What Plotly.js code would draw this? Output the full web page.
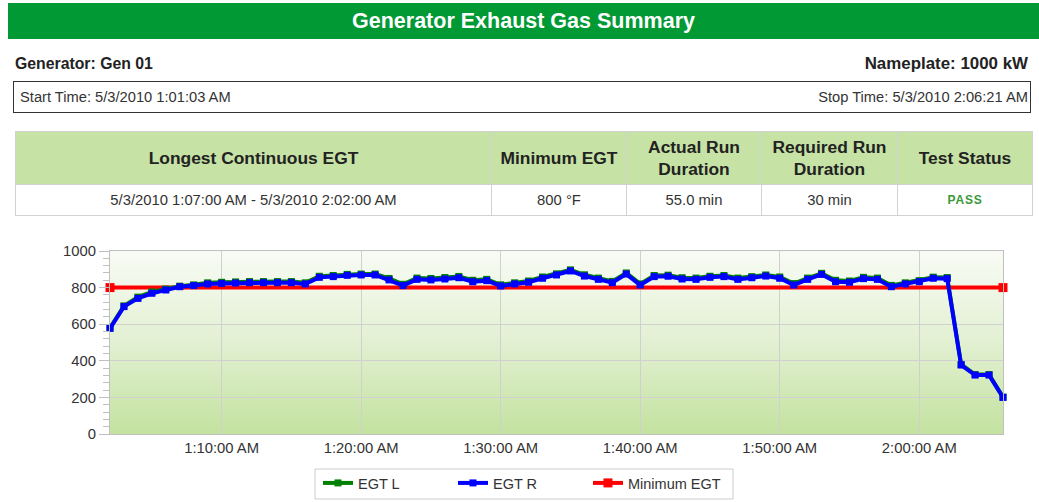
<!DOCTYPE html>
<html><head><meta charset="utf-8">
<script src="https://cdn.plot.ly/plotly-3.0.1.min.js"></script>
<style>
body{margin:0;width:1039px;height:502px;overflow:hidden;background:#fff;font-family:"Liberation Sans",Arial,sans-serif;position:relative;color:#222}
#titlebar{position:absolute;left:8px;top:3px;width:1031px;height:36px;background:#009933;color:#fff;font-weight:bold;font-size:21.5px;text-align:center;line-height:37px}
.lbl{position:absolute;top:54px;font-weight:bold;font-size:15.8px;line-height:20px;color:#222}
#timebox{position:absolute;left:13px;top:81px;width:1016px;height:30px;border:1px solid #333;font-size:14.7px;line-height:31px;color:#333}
#timebox .l{position:absolute;left:6px}
#timebox .r{position:absolute;right:2px}
table{position:absolute;left:15px;top:131px;width:1017px;border-collapse:collapse;table-layout:fixed}
th,td{border:1px solid #d2d2d2;text-align:center;padding:0}
th{background:#c6e2a5;height:52px;font-size:17.4px;line-height:22px;color:#222}
td{height:30px;font-size:14.8px;color:#333}
td.pass{color:#3a9a3a;font-weight:bold;font-size:12px;letter-spacing:0.8px}
#plotbg{position:absolute;left:110px;top:251px;width:893px;height:183px;background:linear-gradient(to bottom,#f8fbf4 0%,#e2f0d2 50%,#c3e29f 100%)}
#chart{position:absolute;left:0;top:0;width:1039px;height:502px}
</style></head>
<body>
<div id="titlebar">Generator Exhaust Gas Summary</div>
<div class="lbl" style="left:15px">Generator: Gen 01</div>
<div class="lbl" style="right:11px;font-size:16.9px">Nameplate: 1000 kW</div>
<div id="timebox"><span class="l">Start Time: 5/3/2010 1:01:03 AM</span><span class="r">Stop Time: 5/3/2010 2:06:21 AM</span></div>
<table>
<colgroup><col style="width:476px"><col style="width:135px"><col style="width:135px"><col style="width:136px"><col style="width:135px"></colgroup>
<tr><th>Longest Continuous EGT</th><th>Minimum EGT</th><th>Actual Run<br>Duration</th><th>Required Run<br>Duration</th><th>Test Status</th></tr>
<tr><td>5/3/2010 1:07:00 AM - 5/3/2010 2:02:00 AM</td><td>800 °F</td><td>55.0 min</td><td>30 min</td><td class="pass">PASS</td></tr>
</table>
<div id="plotbg"></div>
<div id="chart"></div>
<script>
const times = ["1:02","1:03","1:04","1:05","1:06","1:07","1:08","1:09","1:10","1:11",
"1:12","1:13","1:14","1:15","1:16","1:17","1:18","1:19","1:20","1:21",
"1:22","1:23","1:24","1:25","1:26","1:27","1:28","1:29","1:30","1:31",
"1:32","1:33","1:34","1:35","1:36","1:37","1:38","1:39","1:40","1:41",
"1:42","1:43","1:44","1:45","1:46","1:47","1:48","1:49","1:50","1:51",
"1:52","1:53","1:54","1:55","1:56","1:57","1:58","1:59","2:00","2:01",
"2:02","2:03","2:04","2:05","2:06"];
const egtR = [577,696,741,769,787,805,811,820,823,825,
827,827,827,827,820,856,860,867,869,869,
842,811,845,842,847,854,832,838,809,820,
829,851,869,891,863,845,827,874,814,860,
862,847,845,856,860,845,854,863,851,814,
845,872,832,829,849,845,805,820,832,851,
849,377,322,322,200];
const egtL = [580,700,748,776,792,808,815,826,829,831,
833,833,833,833,826,862,866,872,874,874,
850,818,852,850,855,861,840,845,815,826,
836,858,875,897,870,852,834,880,820,866,
868,854,852,862,866,852,860,869,858,822,
852,878,840,836,856,852,812,826,838,857,
855,380,325,325,202];
const minTimes = ["1:02","2:06"];
const minEgt = [800,800];
const toDate = t => { const p = t.split(":"); return "2010-05-03 " + ("0"+p[0]).slice(-2) + ":" + p[1] + ":00"; };
const font = {family:'"Liberation Sans", Arial, sans-serif', size:14.5, color:'#333'};
const tickFont = {family:'"Liberation Sans", Arial, sans-serif', size:14.8, color:'#333'};
const traces = [
 {x:minTimes.map(toDate), y:minEgt, name:'Minimum EGT', mode:'lines+markers', line:{color:'#ff0000', width:4}, marker:{symbol:'square', size:9, color:'#ff0000'}, legendrank:3, cliponaxis:false},
 {x:times.map(toDate), y:egtL, name:'EGT L', mode:'lines+markers', line:{color:'#008000', width:4}, marker:{symbol:'square', size:7, color:'#008000'}, legendrank:1, cliponaxis:false},
 {x:times.map(toDate), y:egtR, name:'EGT R', mode:'lines+markers', line:{color:'#0000ff', width:4}, marker:{symbol:'square', size:7, color:'#0000ff'}, legendrank:2, cliponaxis:false}
];
const layout = {
 width:1039, height:502,
 margin:{l:110, r:36, t:251, b:68, autoexpand:false},
 paper_bgcolor:'rgba(0,0,0,0)', plot_bgcolor:'rgba(0,0,0,0)',
 font:font, showlegend:true,
 xaxis:{type:'date', range:['2010-05-03 01:02:00','2010-05-03 02:06:00'], tick0:'2010-05-03 01:10:00', dtick:600000,
   tickformat:'%-I:%M:%S %p', showgrid:true, gridcolor:'#d0d0d0', gridwidth:1, showline:true, linecolor:'#c0c0c0', mirror:true,
   ticks:'', zeroline:false, tickfont:tickFont, fixedrange:true, automargin:false},
 yaxis:{range:[0,1000], dtick:200, showgrid:true, gridcolor:'#d0d0d0', showline:true, linecolor:'#c0c0c0', mirror:true,
   ticks:'outside', ticklen:10, tickcolor:'#c0c0c0', zeroline:false, tickfont:tickFont, automargin:false,
   minor:{dtick:40, ticks:'outside', ticklen:6, tickcolor:'#c0c0c0', showgrid:false}, fixedrange:true},
 legend:{orientation:'h', x:0.2329, xanchor:'left', y:-0.1803, yanchor:'top', borderwidth:0,
   bgcolor:'rgba(255,255,255,0)', font:font, entrywidth:90, itemwidth:30, traceorder:'normal'},
 shapes:[{type:'rect', xref:'paper', yref:'paper', x0:0.2296, x1:0.6977, y0:-0.1913, y1:-0.3552,
   line:{color:'#cccccc', width:1}, fillcolor:'rgba(0,0,0,0)'}]
};
Plotly.newPlot('chart', traces, layout, {displayModeBar:false, staticPlot:true});
</script>
</body></html>
